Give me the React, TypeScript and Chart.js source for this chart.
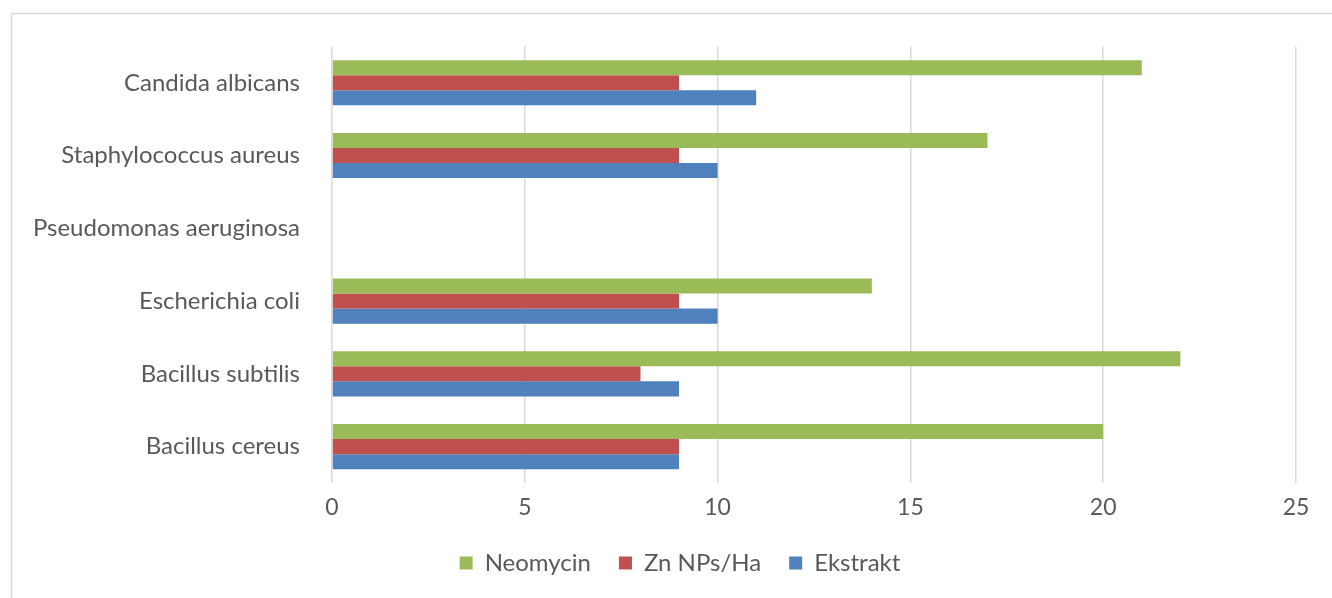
import React, { useEffect, useRef } from "react";
import { Chart, registerables } from "chart.js";

Chart.register(...registerables);

const categories = [
  "Candida albicans",
  "Staphylococcus aureus",
  "Pseudomonas aeruginosa",
  "Escherichia coli",
  "Bacillus subtilis",
  "Bacillus cereus",
];
const neomycin = [21, 17, 0, 14, 22, 20];
const znNPs = [9, 9, 0, 9, 8, 9];
const ekstrakt = [11, 10, 0, 10, 9, 9];
const seriesNames = ["Neomycin", "Zn NPs/Ha", "Ekstrakt"];
const xTicksMax = 25;
const xStep = 5;

const FONT = "Lato, 'Open Sans', sans-serif";
const TEXT = "#595959";

const framePlugin = {
  id: "frame",
  afterLayout(chart: any) {
    if (chart.legend) {
      chart.legend.left += 64;
    }
  },
  beforeDraw(chart: any) {
    const ctx = chart.ctx;
    ctx.save();
    ctx.strokeStyle = "#d9d9d9";
    ctx.lineWidth = 1.5;
    ctx.beginPath();
    ctx.moveTo(11.5, chart.height);
    ctx.lineTo(11.5, 13.5);
    ctx.lineTo(chart.width, 13.5);
    ctx.stroke();
    ctx.restore();
  },
};

export default function App() {
  const ref = useRef<HTMLCanvasElement | null>(null);
  useEffect(() => {
    if (!ref.current) return;
    const chart = new Chart(ref.current, {
      type: "bar",
      data: {
        labels: categories,
        datasets: [
          { label: seriesNames[0], data: neomycin, backgroundColor: "#9BBB59" },
          { label: seriesNames[1], data: znNPs, backgroundColor: "#C0504D" },
          { label: seriesNames[2], data: ekstrakt, backgroundColor: "#4F81BD" },
        ],
      },
      options: {
        indexAxis: "y",
        animation: false,
        responsive: true,
        maintainAspectRatio: false,
        datasets: { bar: { categoryPercentage: 0.62, barPercentage: 1.0 } },
        layout: { padding: { top: 44, right: 36, left: 0, bottom: 13 } },
        plugins: {
          legend: {
            position: "bottom",
            labels: {
              font: { family: FONT, size: 24 },
              color: TEXT,
              boxWidth: 13,
              boxHeight: 13,
              padding: 28,
            },
          },
          tooltip: { enabled: false },
        },
        scales: {
          x: {
            min: 0,
            max: xTicksMax,
            ticks: {
              stepSize: xStep,
              font: { family: FONT, size: 23 },
              color: TEXT,
              padding: 11,
            },
            grid: { color: "#d9d9d9", lineWidth: 1.5, drawTicks: false },
            border: { display: false },
            afterFit(scale: any) {
              scale.height = 40;
            },
          },
          y: {
            ticks: {
              font: { family: FONT, size: 24 },
              color: TEXT,
              padding: 32,
            },
            grid: { display: false, drawTicks: false },
            border: { display: false },
            afterFit(scale: any) {
              scale.width = 332;
            },
          },
        },
      },
      plugins: [framePlugin],
    } as any);
    return () => chart.destroy();
  }, []);
  return (
    <div style={{ position: "absolute", left: 0, top: 0, width: 1332, height: 598, background: "#fff" }}>
      <canvas ref={ref} />
    </div>
  );
}
